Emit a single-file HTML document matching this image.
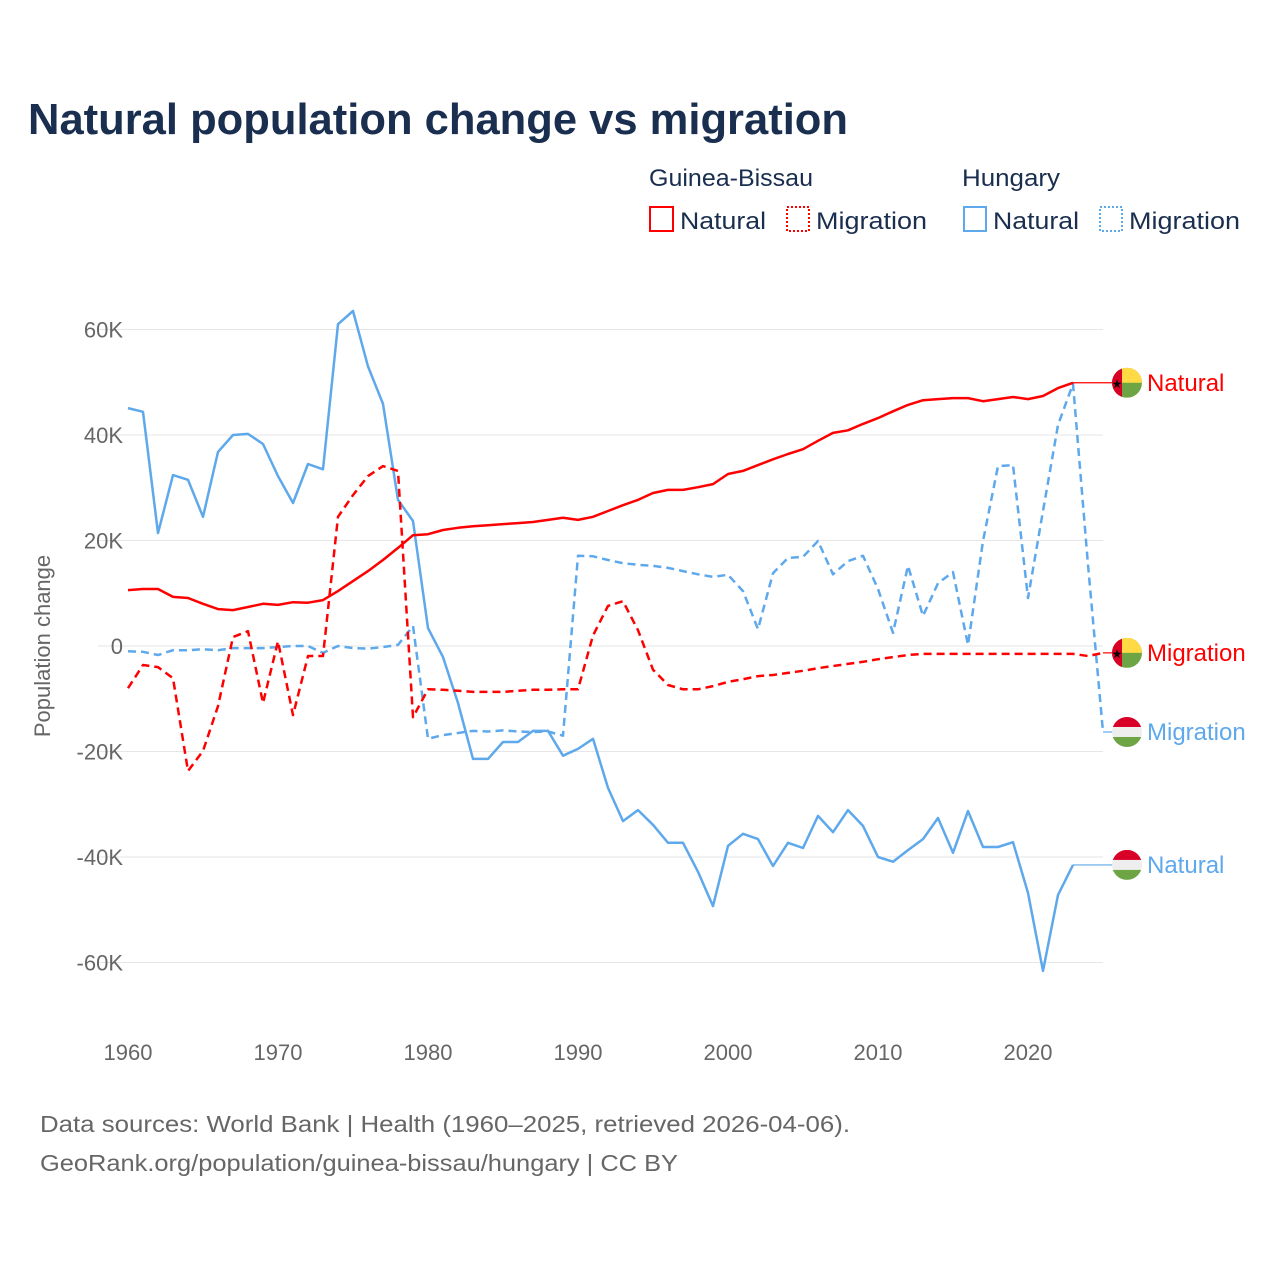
<!DOCTYPE html>
<html><head><meta charset="utf-8">
<style>
html,body{margin:0;padding:0;background:#fff;}
svg{display:block;font-family:"Liberation Sans",sans-serif;}
</style></head>
<body>
<svg id="chart" width="1280" height="1280" viewBox="0 0 1280 1280">
  <text x="28" y="134" font-size="44" font-weight="bold" fill="#1a2e4f" textLength="820" lengthAdjust="spacingAndGlyphs">Natural population change vs migration</text>

  <g>
    <text x="649" y="186" font-size="24" fill="#1a2e4f" textLength="164" lengthAdjust="spacingAndGlyphs">Guinea-Bissau</text>
    <text x="962" y="186" font-size="24" fill="#1a2e4f" textLength="98" lengthAdjust="spacingAndGlyphs">Hungary</text>
    <g>
      <rect x="650" y="207" width="23" height="24" fill="none" stroke="#ff0000" stroke-width="2"/>
      <text x="680" y="229" font-size="24" fill="#1a2e4f" textLength="86" lengthAdjust="spacingAndGlyphs">Natural</text>
    </g>
    <g>
      <rect x="787" y="207" width="22" height="24" fill="none" stroke="#ff0000" stroke-width="2" stroke-dasharray="2,2"/>
      <text x="816" y="229" font-size="24" fill="#1a2e4f" textLength="111" lengthAdjust="spacingAndGlyphs">Migration</text>
    </g>
    <g>
      <rect x="964" y="207" width="22" height="24" fill="none" stroke="#5ea8ec" stroke-width="2"/>
      <text x="993" y="229" font-size="24" fill="#1a2e4f" textLength="86" lengthAdjust="spacingAndGlyphs">Natural</text>
    </g>
    <g>
      <rect x="1100" y="207" width="22" height="24" fill="none" stroke="#5ea8ec" stroke-width="2" stroke-dasharray="2,2"/>
      <text x="1129" y="229" font-size="24" fill="#1a2e4f" textLength="111" lengthAdjust="spacingAndGlyphs">Migration</text>
    </g>
  </g>

  <g id="grid"></g>
  <g id="yticks"></g>
  <g id="xticks"></g>
  <text transform="translate(50,646) rotate(-90)" text-anchor="middle" font-size="22" fill="#666">Population change</text>
  <g id="series"></g>
  <g id="labels"></g>

  <text x="40" y="1132" font-size="23" fill="#666" textLength="810" lengthAdjust="spacingAndGlyphs">Data sources: World Bank | Health (1960–2025, retrieved 2026-04-06).</text>
  <text x="40" y="1171" font-size="23" fill="#666" textLength="638" lengthAdjust="spacingAndGlyphs">GeoRank.org/population/guinea-bissau/hungary | CC BY</text>
</svg>
<script>
const years = [];
for (let y = 1960; y <= 2025; y++) years.push(y);
const yTicks = [-60, -40, -20, 0, 20, 40, 60];
const yTickLabels = ["-60K", "-40K", "-20K", "0", "20K", "40K", "60K"];
const xTicks = [1960, 1970, 1980, 1990, 2000, 2010, 2020];

const gbNatural = [10.6,10.8,10.8,9.3,9.1,8,7,6.8,7.4,8,7.8,8.3,8.2,8.7,10.4,12.3,14.2,16.3,18.6,21,21.2,22,22.4,22.7,22.9,23.1,23.3,23.5,23.9,24.3,23.9,24.5,25.6,26.7,27.7,29,29.6,29.6,30.1,30.7,32.6,33.2,34.3,35.4,36.4,37.3,38.9,40.4,40.9,42.1,43.2,44.5,45.7,46.6,46.8,47,47,46.4,46.8,47.2,46.8,47.4,48.9,49.9];
const gbMigration = [-8,-3.6,-4,-6.1,-23.7,-19.9,-11.4,1.7,2.8,-10.8,0.9,-13.1,-1.9,-1.9,24.5,28.6,32.2,34.1,33.2,-13.5,-8.2,-8.3,-8.5,-8.7,-8.7,-8.7,-8.5,-8.3,-8.3,-8.2,-8.2,2,7.6,8.5,3,-4.5,-7.4,-8.2,-8.2,-7.6,-6.8,-6.3,-5.7,-5.5,-5.1,-4.7,-4.2,-3.8,-3.4,-3,-2.5,-2.1,-1.7,-1.5,-1.5,-1.5,-1.5,-1.5,-1.5,-1.5,-1.5,-1.5,-1.5,-1.5,-1.9,-1.3];
const huNatural = [45.1,44.4,21.4,32.4,31.5,24.5,36.8,40,40.2,38.3,32.2,27.1,34.5,33.5,61,63.5,53,45.9,27.7,23.7,3.4,-2.1,-10.8,-21.4,-21.4,-18.2,-18.2,-16.1,-16.1,-20.8,-19.5,-17.6,-26.9,-33.2,-31.1,-33.9,-37.3,-37.3,-42.8,-49.3,-37.9,-35.6,-36.6,-41.7,-37.3,-38.3,-32.2,-35.3,-31.1,-34.1,-40,-40.9,-38.7,-36.6,-32.6,-39.2,-31.3,-38.1,-38.1,-37.2,-46.8,-61.6,-47.2,-41.5];
const huMigration = [-1,-1.1,-1.7,-0.8,-0.8,-0.6,-0.8,-0.4,-0.4,-0.4,-0.2,0,0,-1.3,0,-0.4,-0.5,-0.2,0.2,3.8,-17.6,-16.9,-16.5,-16.1,-16.2,-16,-16.2,-16.3,-16.2,-17,17.1,17,16.3,15.7,15.4,15.2,14.8,14.2,13.6,13.1,13.5,10.4,3.2,13.8,16.7,16.9,19.9,13.6,16.1,17.1,10.8,2.5,15.2,5.7,11.9,14,0.2,19.9,34.1,34.3,9.1,25.6,41.9,49.7,15.4,-16.3];

const NS = "http://www.w3.org/2000/svg";
const X0 = 128, X1 = 1103, Y0 = 646, PER20 = 105.5;
function xScale(yr){ return X0 + (yr - 1960) * (X1 - X0) / 65; }
function yScale(v){ return Y0 - v * PER20 / 20; }
function mk(tag, attrs, parent){ const e = document.createElementNS(NS, tag); for (const k in attrs) e.setAttribute(k, attrs[k]); parent.appendChild(e); return e; }

const grid = document.getElementById('grid');
const yt = document.getElementById('yticks');
yTicks.forEach((t, i) => {
  const l = mk('line', {x1: 98, x2: 1103, y1: yScale(t), y2: yScale(t), stroke: '#e6e6e6', 'stroke-width': 1}, grid);
  
  
  const tx = mk('text', {x: 123, y: yScale(t) + 8, 'text-anchor': 'end', 'font-size': 22, fill: '#666'}, yt);
  tx.textContent = yTickLabels[i];
  
  
});
const xt = document.getElementById('xticks');
xTicks.forEach(t => {
  const tx = mk('text', {x: xScale(t), y: 1060, 'text-anchor': 'middle', 'font-size': 22, fill: '#666'}, xt);
  tx.textContent = String(t);
  
  
});

const ser = document.getElementById('series');
function drawLine(vals, color, dash, name){
  const pts = vals.map((v, i) => xScale(years[i]).toFixed(1) + ',' + yScale(v).toFixed(1)).join(' ');
  const p = mk('polyline', {points: pts, fill: 'none', stroke: color, 'stroke-width': 2.5, 'stroke-linejoin': 'round'}, ser);
  if (dash) p.setAttribute('stroke-dasharray', '8,5');
  
  
  return p;
}
const RED = '#ff0000', BLUE = '#5ea8ec';
drawLine(huNatural, BLUE, false, 'line-hungary-natural');
drawLine(huMigration, BLUE, true, 'line-hungary-migration');
drawLine(gbNatural, RED, false, 'line-guinea-bissau-natural');
drawLine(gbMigration, RED, true, 'line-guinea-bissau-migration');

const lab = document.getElementById('labels');
function endLabel(vals, color, text, flag, name){
  const last = vals.length - 1;
  const yv = yScale(vals[last]);
  const g = mk('g', {}, lab);
  
  
  mk('line', {x1: xScale(years[last]), x2: 1113, y1: yv, y2: yv, stroke: color, 'stroke-width': 1.2}, g);
  const cx = 1127, r = 15;
  const cp = 'clip-' + name;
  const d = mk('clipPath', {id: cp}, g);
  mk('circle', {cx: cx, cy: yv, r: r}, d);
  const fg = mk('g', {'clip-path': 'url(#' + cp + ')'}, g);
  if (flag === 'gb') {
    mk('rect', {x: cx - r, y: yv - r, width: 2 * r, height: 2 * r, fill: '#6da544'}, fg);
    mk('rect', {x: cx - r, y: yv - r, width: 2 * r, height: r, fill: '#ffda44'}, fg);
    mk('rect', {x: cx - r, y: yv - r, width: 10, height: 2 * r, fill: '#d80027'}, fg);
    const s = mk('text', {x: cx - 10, y: yv + 5, 'text-anchor': 'middle', 'font-size': 12, fill: '#000'}, fg);
    s.textContent = '★';
  } else {
    mk('rect', {x: cx - r, y: yv - r, width: 2 * r, height: 2 * r, fill: '#eeeeee'}, fg);
    mk('rect', {x: cx - r, y: yv - r, width: 2 * r, height: 10, fill: '#d80027'}, fg);
    mk('rect', {x: cx - r, y: yv + 5, width: 2 * r, height: 10, fill: '#6da544'}, fg);
  }
  const t = mk('text', {x: 1147, y: yv + 8, 'font-size': 24, fill: color}, g);
  t.textContent = text;
}
endLabel(gbNatural, RED, 'Natural', 'gb', 'end-label-gb-natural');
endLabel(gbMigration, RED, 'Migration', 'gb', 'end-label-gb-migration');
endLabel(huMigration, BLUE, 'Migration', 'hu', 'end-label-hu-migration');
endLabel(huNatural, BLUE, 'Natural', 'hu', 'end-label-hu-natural');
</script>
</body></html>
